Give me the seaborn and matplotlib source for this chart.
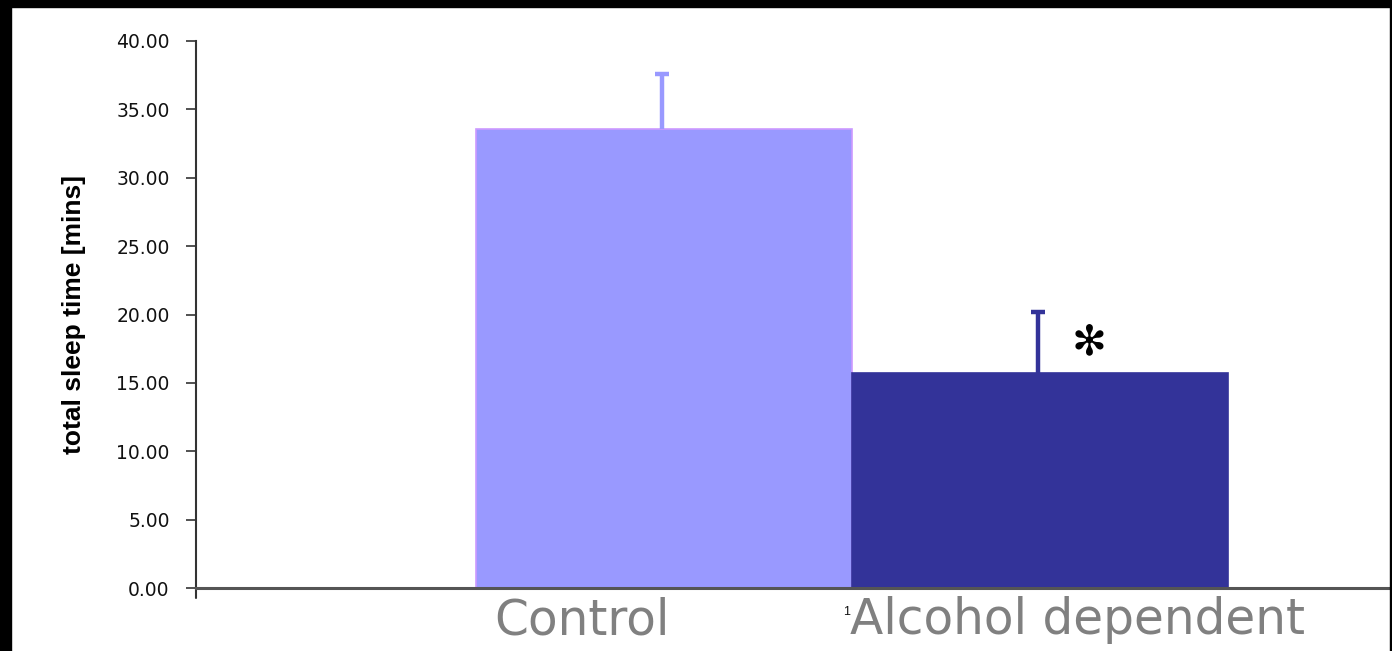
import matplotlib
matplotlib.use('Agg')
import seaborn as sns
from matplotlib import pyplot as plt
from matplotlib.patches import Rectangle

# Data
groups = ['Control', 'Alcohol dependent']
means = [33.55, 15.72]
sem = [4.05, 4.45]
bar_colors = ['#9999ff', '#333399']
edge_colors = ['#cc99ff', '#333399']
yticks = [0, 5, 10, 15, 20, 25, 30, 35, 40]

sns.set_theme(style='white')
plt.rcParams['font.family'] = ['Liberation Sans', 'DejaVu Sans']

fig = plt.figure(figsize=(13.92, 6.51), dpi=100, facecolor='white')
W, H = 1392, 651
ax = fig.add_axes([196 / W, 1 - 588 / H, (1390 - 196) / W, (588 - 41) / H])

sns.barplot(x=groups, y=means, hue=groups, palette=bar_colors, width=1.0,
            legend=False, ax=ax, saturation=1)
for patch, ec in zip(ax.patches, edge_colors):
    patch.set_edgecolor(ec)
    patch.set_linewidth(1.2)

# upper-only error bars (lower cap hidden)
for i, (m, e, c) in enumerate(zip(means, sem, bar_colors)):
    eb = ax.errorbar(i - 0.005, m, yerr=[[0], [e]], fmt='none', ecolor=c,
                     elinewidth=3.2, capsize=5, capthick=3.2, zorder=3)
    eb[1][0].set_visible(False)

ax.text(1.13, 18.0, '\u273b', fontsize=30, color='black', ha='center', va='center',
        family=['DejaVu Sans'])

ax.set_ylim(0, 40)
ax.set_xlim(-1.245, 1.93)
ax.set_yticks(yticks)
ax.set_yticklabels([f'{v:.2f}' for v in yticks], fontsize=13.5, color='#111111',
                   family=['DejaVu Sans'])
ax.set_xticks([])
ax.tick_params(axis='y', direction='out', length=7, width=1.2, color='#333333', pad=12, left=True)

for side in ['top', 'right']:
    ax.spines[side].set_visible(False)
ax.spines['left'].set_color('#333333')
ax.spines['left'].set_linewidth(1.5)
ax.spines['bottom'].set_color('#555555')
ax.spines['bottom'].set_linewidth(2.2)

ax.set_ylabel('total sleep time [mins]', fontsize=19, fontweight='bold', labelpad=22, color='black')
ax.set_xlabel('')

# small tick below the origin and category label "1"
ax.plot([-1.245, -1.245], [0, -0.7], color='#333333', lw=1.5, clip_on=False)
ax.text(0.485, -1.3, '1', fontsize=9, color='#111111', ha='center', va='top')

# large group labels
ax.text(-0.22, -0.6, 'Control', fontsize=35, color='#808080', ha='center', va='top',
        family=['DejaVu Sans'])
ax.text(1.1, -0.6, 'Alcohol dependent', fontsize=35, color='#808080', ha='center', va='top',
        family=['DejaVu Sans'])

# black frame strips
fig.patches.append(Rectangle((0, 1 - 7 / H), 1, 7 / H, transform=fig.transFigure,
                             color='black', zorder=10))
fig.patches.append(Rectangle((0, 0), 11 / W, 1, transform=fig.transFigure,
                             color='black', zorder=10))
fig.patches.append(Rectangle((1390 / W, 0), 2 / W, 1, transform=fig.transFigure,
                             color='black', zorder=10))

fig.savefig('out.png', dpi=100, facecolor='white')
